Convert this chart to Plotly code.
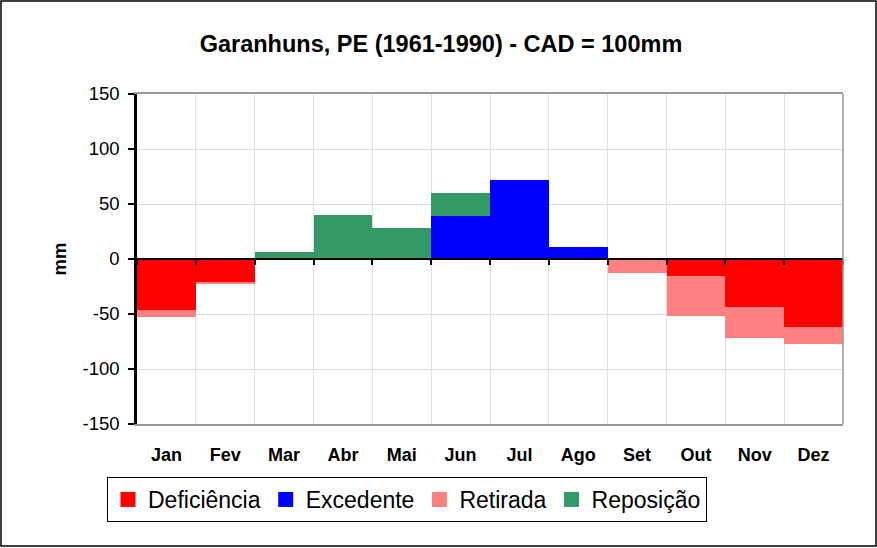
import plotly.graph_objects as go

months = ["Jan", "Fev", "Mar", "Abr", "Mai", "Jun", "Jul", "Ago", "Set", "Out", "Nov", "Dez"]
deficiencia = [-46, -21, 0, 0, 0, 0, 0, 0, 0, -15, -44, -62]
excedente = [0, 0, 0, 0, 0, 39, 72, 11, 0, 0, 0, 0]
retirada = [-7, -2, 0, 0, 0, 0, 0, 0, -13, -37, -28, -15]
reposicao = [0, 0, 6, 40, 28, 21, 0, 0, 0, 0, 0, 0]
y_ticks = [-150, -100, -50, 0, 50, 100, 150]
y_tick_labels = ["-150", "-100", "-50", "0", "50", "100", "150"]

FONT = "Arial, Liberation Sans, sans-serif"
xpos = list(range(len(months)))
bounds = [i - 0.5 for i in range(len(months) + 1)]

fig = go.Figure()
series = [
    ("Deficiência", deficiencia, "#FF0000"),
    ("Excedente", excedente, "#0000FF"),
    ("Retirada", retirada, "#FF8080"),
    ("Reposição", reposicao, "#339966"),
]
for name, vals, col in series:
    fig.add_trace(go.Bar(x=xpos, y=vals, name=name, showlegend=False,
                         marker=dict(color=col, line=dict(width=0))))
# legend entries (square markers)
for name, vals, col in series:
    fig.add_trace(go.Scatter(x=[None], y=[None], name=name, mode="markers",
                             marker=dict(symbol="square", size=15, color=col)))

# dummy trace to activate the boundary axis
fig.add_trace(go.Scatter(x=[bounds[0], bounds[-1]], y=[0, 0], xaxis="x2", mode="lines",
                         line=dict(width=0), showlegend=False, hoverinfo="skip"))

fig.update_layout(
    width=877, height=548,
    margin=dict(l=137, r=34, t=94, b=124),
    paper_bgcolor="white", plot_bgcolor="white",
    barmode="relative", bargap=0,
    font=dict(family=FONT, color="black"),
    title=dict(text="<b>Garanhuns, PE (1961-1990) - CAD = 100mm</b>", x=441 / 877, xanchor="center",
               xref="container", y=1 - 44 / 548, yanchor="middle", font=dict(size=23.5, family=FONT)),
    xaxis=dict(range=[bounds[0], bounds[-1]], tickvals=xpos, ticktext=["<b>%s</b>" % m for m in months],
               showgrid=False, ticks="", tickfont=dict(size=18), ticklabelstandoff=14,
               showline=True, linecolor="#999999", linewidth=1.5, mirror=True, zeroline=False),
    xaxis2=dict(overlaying="x", anchor="free", position=0.5, range=[bounds[0], bounds[-1]],
                tickvals=bounds, showticklabels=False, ticks="outside", ticklen=5, tickwidth=1.5,
                tickcolor="black", showgrid=True, gridcolor="#e0e0e0", gridwidth=1,
                showline=True, linecolor="black", linewidth=1.5, zeroline=False, side="bottom"),
    yaxis=dict(range=[-150, 150], tickvals=y_ticks, ticktext=y_tick_labels, ticks="outside",
               ticklen=6, tickwidth=2, tickcolor="black", tickfont=dict(size=18.5), ticklabelstandoff=5,
               showgrid=True, gridcolor="#dcdcdc",
               showline=True, linecolor="black", linewidth=2.5, zeroline=False,
               title=dict(text="<b>mm</b>", font=dict(size=18.5), standoff=12)),
    legend=dict(orientation="h", x=(107 - 137) / 706, xanchor="left", y=(424 - 477) / 330, yanchor="top",
                bordercolor="black", borderwidth=1, bgcolor="white", font=dict(size=23, family=FONT),
                itemwidth=30, itemsizing="trace", tracegroupgap=0),
    shapes=[
        dict(type="line", xref="paper", yref="paper", x0=1, x1=1, y0=0, y1=1,
             line=dict(color="#999999", width=1.5), layer="above"),
        dict(type="rect", xref="paper", yref="paper",
             x0=(1 - 137) / 706, x1=(876 - 137) / 706, y0=(424 - 546) / 330, y1=1 + (94 - 1) / 330,
             line=dict(color="black", width=1.5), layer="above"),
    ],
)

fig.write_html("out.html", config={"displayModeBar": False},
               post_script="document.body.style.margin='0';")
